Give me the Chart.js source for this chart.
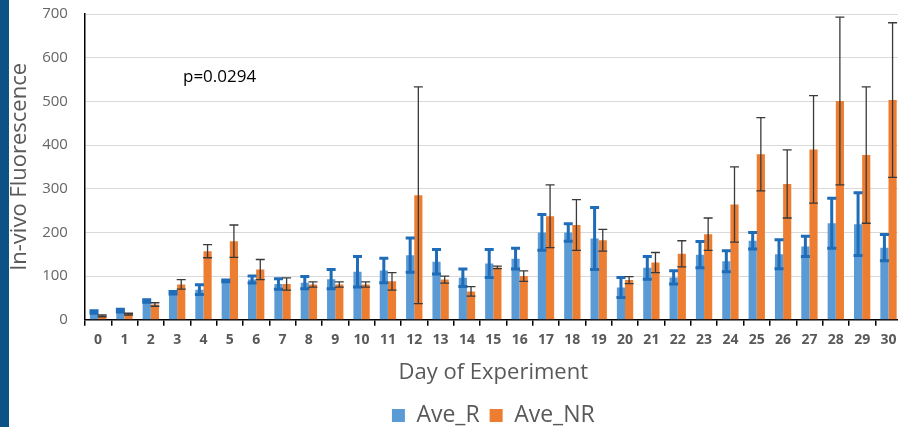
<!DOCTYPE html>
<html>
<head>
<meta charset="utf-8">
<script src="https://cdn.jsdelivr.net/npm/chart.js@4.4.1/dist/chart.umd.min.js"></script>
<style>
  html, body { margin: 0; padding: 0; background: #fff; overflow: hidden; }
  #wrap { position: absolute; left: 0; top: -12px; width: 902px; height: 449px; }
  #strip { position: absolute; left: 0; top: 0; width: 9px; height: 427px; background: #0c5285; z-index: 2; }
</style>
</head>
<body>
<div id="wrap">
  <canvas id="myChart"></canvas>
</div>
<div id="strip"></div>
<script>
const dias = ["0","1","2","3","4","5","6","7","8","9","10","11","12","13","14","15","16","17","18","19","20","21","22","23","24","25","26","27","28","29","30"];
const aveR = [18, 21, 43, 62, 69, 89, 92, 82, 85, 93, 110, 113, 148, 133, 96, 129, 140, 200, 200, 186, 74, 119, 97, 149, 134, 181, 150, 168, 221, 219, 165];
const errR = [3, 3, 3, 3, 11, 2, 8, 12, 14, 22, 35, 28, 39, 28, 20, 32, 24, 41, 20, 71, 23, 26, 15, 30, 24, 19, 33, 23, 57, 72, 30];
const aveNR = [9, 13, 35, 81, 157, 180, 115, 82, 81, 81, 81, 88, 285, 92, 65, 120, 100, 237, 217, 182, 91, 131, 151, 196, 264, 379, 311, 390, 501, 377, 503];
const errNR = [2, 2, 4, 11, 15, 37, 23, 14, 6, 6, 6, 20, 248, 8, 11, 3, 12, 72, 58, 25, 8, 23, 30, 37, 86, 84, 78, 123, 192, 156, 177];

const errores = {
  id: "errores",
  afterDatasetsDraw(c) {
    const ctx = c.ctx;
    const y = c.scales.y;
    const sets = [
      { idx: 0, ave: aveR, err: errR, color: "#1f6cb8", width: 3, cap: 9 },
      { idx: 1, ave: aveNR, err: errNR, color: "#3a3a3a", width: 1.3, cap: 9 },
    ];
    ctx.save();
    sets.forEach((s) => {
      const meta = c.getDatasetMeta(s.idx);
      ctx.strokeStyle = s.color;
      ctx.lineWidth = s.width;
      meta.data.forEach((bar, i) => {
        const x = bar.x;
        const top = y.getPixelForValue(s.ave[i] + s.err[i]);
        const bot = y.getPixelForValue(s.ave[i] - s.err[i]);
        ctx.beginPath();
        ctx.moveTo(x, top);
        ctx.lineTo(x, bot);
        ctx.moveTo(x - s.cap / 2, top);
        ctx.lineTo(x + s.cap / 2, top);
        ctx.moveTo(x - s.cap / 2, bot);
        ctx.lineTo(x + s.cap / 2, bot);
        ctx.stroke();
      });
    });
    // p value label (wrapper sits 12px above the page top)
    ctx.fillStyle = "#000";
    ctx.font = "17px 'Open Sans'";
    ctx.textAlign = "left";
    ctx.textBaseline = "middle";
    ctx.fillText("p=0.0294", 183, 89);
    ctx.restore();
  },
};

new Chart(document.getElementById("myChart"), {
  type: "bar",
  data: {
    labels: dias,
    datasets: [
      { label: "Ave_R", data: aveR, backgroundColor: "#5b9bd5", barPercentage: 1, categoryPercentage: 0.62 },
      { label: "Ave_NR", data: aveNR, backgroundColor: "#ed7d31", barPercentage: 1, categoryPercentage: 0.62 },
    ],
  },
  options: {
    responsive: true,
    maintainAspectRatio: false,
    animation: false,
    layout: { padding: { left: 6.8, top: 6, right: 0, bottom: 0 } },
    scales: {
      x: {
        grid: { drawOnChartArea: false, drawTicks: true, tickLength: 6, color: "#000", lineWidth: 1.5 },
        border: { color: "#000", width: 1.5 },
        ticks: { color: "#595959", font: { family: "Open Sans", size: 14, weight: "bold" }, padding: 5.5, maxRotation: 0, autoSkip: false },
        title: { display: true, text: "Day of Experiment", color: "#595959", font: { family: "Open Sans", size: 22 }, padding: { top: 6, bottom: 8 } },
      },
      y: {
        min: 0,
        max: 700,
        ticks: { stepSize: 100, color: "#666", font: { family: "Open Sans", size: 15 }, padding: 17 },
        grid: { color: "#d9d9d9", drawTicks: false },
        border: { color: "#000", width: 1.5 },
        title: { display: true, text: "In-vivo Fluorescence", color: "#595959", font: { family: "Open Sans", size: 22 }, padding: { top: 0, bottom: -8 } },
      },
    },
    plugins: {
      legend: {
        position: "bottom",
        fullSize: false,
        labels: { color: "#595959", font: { family: "Open Sans", size: 23 }, boxWidth: 13, boxHeight: 13, padding: 10 },
      },
      tooltip: { enabled: false },
    },
  },
  plugins: [errores],
});
</script>
</body>
</html>
